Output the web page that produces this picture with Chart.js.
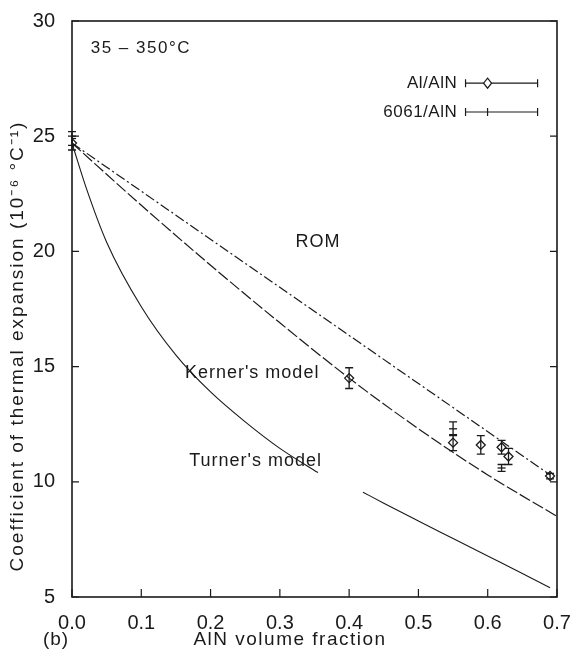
<!DOCTYPE html>
<html>
<head>
<meta charset="utf-8">
<script src="https://cdn.jsdelivr.net/npm/chart.js@4.4.1/dist/chart.umd.min.js"></script>
<style>
  html, body { margin: 0; padding: 0; background: #fff; }
</style>
</head>
<body>
<canvas id="cteChart" width="584" height="659"></canvas>
<script>
// axis ticks
const fractionTicks = [0, 0.1, 0.2, 0.3, 0.4, 0.5, 0.6, 0.7];
const cteTicks = [5, 10, 15, 20, 25, 30];

// model curves
const romX = [0, 0.69];
const romY = [24.7, 10.3];
const kernerX = [0, 0.1, 0.2, 0.3, 0.4, 0.5, 0.6, 0.7];
const kernerY = [24.7, 22.0, 19.4, 16.9, 14.5, 12.3, 10.3, 8.5];
const turnerX = [0, 0.02, 0.05, 0.1, 0.15, 0.2, 0.25, 0.3, 0.355, null, 0.42, 0.45, 0.5, 0.55, 0.6, 0.65, 0.69];
const turnerY = [24.7, 22.8, 20.4, 17.6, 15.5, 13.9, 12.6, 11.45, 10.4, null, 9.55, 9.07, 8.3, 7.54, 6.78, 6.02, 5.4];

// measurements
const alX = [0, 0.4, 0.55, 0.59, 0.62, 0.63, 0.69];
const alY = [24.7, 14.5, 11.7, 11.6, 11.5, 11.1, 10.25];
const alErr = [0.3, 0.45, 0.35, 0.4, 0.3, 0.35, 0.12];
const alloyX = [0, 0.55, 0.62];
const alloyY = [24.9, 12.3, 10.6];
const alloyErr = [0.3, 0.3, 0.15];

const toPoints = (xs, ys) => xs.map((v, i) => (v === null ? { x: null, y: null } : { x: v, y: ys[i] }));

const FONT = "'Liberation Sans', Arial, sans-serif";
const INK = "#1a1a1a";

function spacedText(ctx, text, px, py, spacing) {
  ctx.letterSpacing = spacing + "px";
  ctx.fillText(text, px, py);
  ctx.letterSpacing = "0px";
}

const decorations = {
  id: "decorations",
  afterDatasetsDraw(chart) {
    const { ctx, chartArea: a, scales } = chart;
    const x = scales.x;
    const y = scales.y;
    ctx.save();
    ctx.strokeStyle = INK;
    ctx.fillStyle = INK;

    // error bars
    const bars = (xs, ys, errs) => {
      ctx.lineWidth = 1.3;
      xs.forEach((v, i) => {
        const px = x.getPixelForValue(v);
        const top = y.getPixelForValue(ys[i] + errs[i]);
        const bot = y.getPixelForValue(ys[i] - errs[i]);
        ctx.beginPath();
        ctx.moveTo(px, top);
        ctx.lineTo(px, bot);
        ctx.moveTo(px - 4, top);
        ctx.lineTo(px + 4, top);
        ctx.moveTo(px - 4, bot);
        ctx.lineTo(px + 4, bot);
        ctx.stroke();
      });
    };
    bars(alX, alY, alErr);
    bars(alloyX, alloyY, alloyErr);

    // frame
    ctx.lineWidth = 1.6;
    ctx.strokeRect(a.left, a.top, a.right - a.left, a.bottom - a.top);

    // inward ticks
    ctx.lineWidth = 1.2;
    ctx.beginPath();
    fractionTicks.forEach((v) => {
      const px = x.getPixelForValue(v);
      ctx.moveTo(px, a.bottom);
      ctx.lineTo(px, a.bottom - 8);
    });
    cteTicks.forEach((v) => {
      const py = y.getPixelForValue(v);
      ctx.moveTo(a.left, py);
      ctx.lineTo(a.left + 7, py);
      ctx.moveTo(a.right, py);
      ctx.lineTo(a.right - 7, py);
    });
    ctx.stroke();

    // annotations
    ctx.textBaseline = "middle";
    ctx.font = "17px " + FONT;
    ctx.textAlign = "left";
    spacedText(ctx, "35 – 350°C", x.getPixelForValue(0.027), y.getPixelForValue(28.8), 1.5);

    ctx.font = "18px " + FONT;
    ctx.textAlign = "center";
    spacedText(ctx, "ROM", x.getPixelForValue(0.355), y.getPixelForValue(20.4), 1);
    spacedText(ctx, "Kerner's model", x.getPixelForValue(0.26), y.getPixelForValue(14.7), 1);
    spacedText(ctx, "Turner's model", x.getPixelForValue(0.265), y.getPixelForValue(10.9), 1);

    // legend
    ctx.font = "17px " + FONT;
    const legend = [
      { label: "Al/AlN", v: 27.3, diamond: true },
      { label: "6061/AlN", v: 26.05, diamond: false }
    ];
    legend.forEach((item) => {
      const py = y.getPixelForValue(item.v);
      const x0 = x.getPixelForValue(0.568);
      const x1 = x.getPixelForValue(0.672);
      const mid = (x0 + x1) / 2;
      ctx.textAlign = "right";
      spacedText(ctx, item.label, x.getPixelForValue(0.556), py, 0.5);
      ctx.lineWidth = 1.2;
      ctx.beginPath();
      ctx.moveTo(x0, py);
      ctx.lineTo(x1, py);
      ctx.moveTo(x0, py - 4);
      ctx.lineTo(x0, py + 4);
      ctx.moveTo(x1, py - 4);
      ctx.lineTo(x1, py + 4);
      if (!item.diamond) {
        ctx.moveTo(mid - 14, py - 4);
        ctx.lineTo(mid - 14, py + 4);
      }
      ctx.stroke();
      if (item.diamond) {
        ctx.beginPath();
        ctx.moveTo(mid - 14, py - 5);
        ctx.lineTo(mid - 10, py);
        ctx.lineTo(mid - 14, py + 5);
        ctx.lineTo(mid - 18, py);
        ctx.closePath();
        ctx.fillStyle = "#fff";
        ctx.fill();
        ctx.stroke();
        ctx.fillStyle = INK;
      }
    });

    // axis titles
    ctx.font = "19px " + FONT;
    ctx.textAlign = "center";
    spacedText(ctx, "AlN volume fraction", 290, 640, 1.5);
    spacedText(ctx, "(b)", 56, 640, 1);
    ctx.save();
    ctx.translate(18, 346);
    ctx.rotate(-Math.PI / 2);
    spacedText(ctx, "Coefficient of thermal expansion (10⁻⁶ °C⁻¹)", 0, 0, 2);
    ctx.restore();

    ctx.restore();
  }
};

new Chart(document.getElementById("cteChart"), {
  type: "scatter",
  data: {
    datasets: [
      {
        label: "ROM",
        data: toPoints(romX, romY),
        showLine: true,
        borderColor: INK,
        borderWidth: 1.2,
        borderDash: [10, 3, 2, 3],
        pointRadius: 0
      },
      {
        label: "Kerner's model",
        data: toPoints(kernerX, kernerY),
        showLine: true,
        borderColor: INK,
        borderWidth: 1.2,
        borderDash: [12, 3],
        cubicInterpolationMode: "monotone",
        pointRadius: 0
      },
      {
        label: "Turner's model",
        data: toPoints(turnerX, turnerY),
        showLine: true,
        spanGaps: false,
        borderColor: INK,
        borderWidth: 1.1,
        cubicInterpolationMode: "monotone",
        pointRadius: 0
      },
      {
        label: "6061/AlN",
        data: toPoints(alloyX, alloyY),
        pointStyle: "line",
        pointRadius: 4,
        borderColor: INK,
        borderWidth: 1.3
      },
      {
        label: "Al/AlN",
        data: toPoints(alX, alY),
        pointStyle: "rectRot",
        pointRadius: 4.5,
        backgroundColor: "#fff",
        borderColor: INK,
        borderWidth: 1.3
      }
    ]
  },
  options: {
    responsive: false,
    animation: false,
    devicePixelRatio: 1,
    layout: { padding: { top: 18, right: 27, left: 0, bottom: 0 } },
    plugins: {
      legend: { display: false },
      tooltip: { enabled: false }
    },
    scales: {
      x: {
        type: "linear",
        min: 0,
        max: 0.7,
        afterFit: (scale) => { scale.height = 62; },
        afterBuildTicks: (scale) => { scale.ticks = fractionTicks.map((v) => ({ value: v })); },
        grid: { display: false },
        border: { display: false },
        ticks: {
          padding: 6,
          color: INK,
          font: { family: FONT, size: 20 },
          callback: (v) => Number(v).toFixed(1)
        }
      },
      y: {
        min: 5,
        max: 30,
        afterFit: (scale) => { scale.width = 72; },
        afterBuildTicks: (scale) => { scale.ticks = cteTicks.map((v) => ({ value: v })); },
        grid: { display: false },
        border: { display: false },
        ticks: {
          padding: 9,
          color: INK,
          font: { family: FONT, size: 20 }
        }
      }
    }
  },
  plugins: [decorations]
});
</script>
</body>
</html>
